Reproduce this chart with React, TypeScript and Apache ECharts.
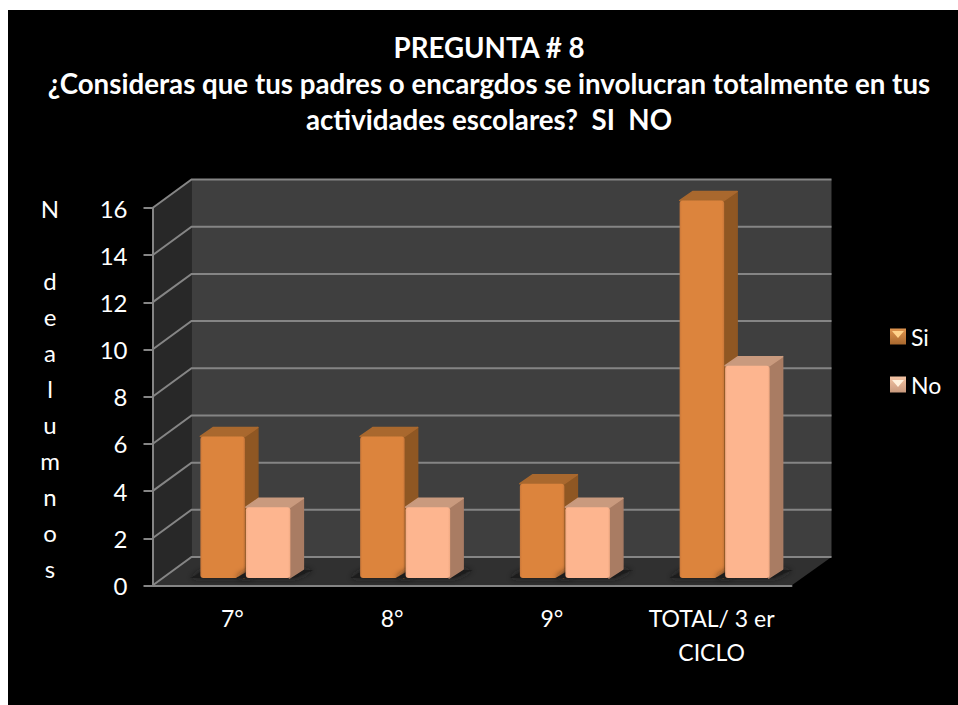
import React, { useEffect, useRef } from "react";
import * as echarts from "echarts";

const categories = ["7°", "8°", "9°", "TOTAL/ 3 er\nCICLO"];
const siValues = [6, 6, 4, 16];
const noValues = [3, 3, 3, 9];
const yTicks = [0, 2, 4, 6, 8, 10, 12, 14, 16];
const titleText =
  "PREGUNTA # 8\n¿Consideras que tus padres o encargdos se involucran totalmente en tus\nactividades escolares?  SI  NO";
const yTitle = "N\n\nd\ne\na\nl\nu\nm\nn\no\ns";

const FONT = "Lato";
const WALL_DX = 39;
const WALL_DY = 28.5;
const BAR_DX = 13;
const BAR_DY = 9;
const BASE_DX = 13;
const BASE_DY = 7.5;
const BAR_W = 44.5;

const siColors = { front: "#DC843D", edge: "#C8773A", top: "#A9682E", side: "#8F5723" };
const noColors = { front: "#FDB58F", edge: "#F0A982", top: "#C99A7E", side: "#A97C63" };

function hGrad(edge: string, main: string) {
  return new echarts.graphic.LinearGradient(0, 0, 1, 0, [
    { offset: 0, color: edge },
    { offset: 0.05, color: main },
    { offset: 0.95, color: main },
    { offset: 1, color: edge },
  ]);
}

function barRender(offset: number, c: typeof siColors) {
  return (_params: any, api: any) => {
    const [cx, yv] = api.coord([api.value(0), api.value(1)]);
    const [, y0] = api.coord([api.value(0), 0]);
    const x0 = cx + BASE_DX + offset;
    const top = yv - BASE_DY;
    const bot = y0 - BASE_DY;
    const x1 = x0 + BAR_W;
    return {
      type: "group",
      children: [
        {
          type: "polygon",
          shape: {
            points: [
              [x0 - 10, bot],
              [x0 + 4, bot - 8],
              [x1 + BAR_DX + 10, bot - 8],
              [x1 + 4, bot],
            ],
          },
          style: { fill: "#1c1c1c", shadowBlur: 6, shadowColor: "#1c1c1c" },
        },
        {
          type: "polygon",
          shape: {
            points: [
              [x1 - 1, top],
              [x1 + BAR_DX, top - BAR_DY],
              [x1 + BAR_DX, bot - BAR_DY],
              [x1 - 1, bot],
            ],
          },
          style: { fill: c.side, lineJoin: "round", stroke: c.side, lineWidth: 1.5 },
        },
        {
          type: "polygon",
          shape: {
            points: [
              [x0, top],
              [x0 + BAR_DX, top - BAR_DY],
              [x1 + BAR_DX, top - BAR_DY],
              [x1, top],
            ],
          },
          style: { fill: c.top, lineJoin: "round", stroke: c.top, lineWidth: 1.5 },
        },
        {
          type: "rect",
          shape: { x: x0, y: top, width: BAR_W, height: bot - top, r: 3 },
          style: { fill: hGrad(c.edge, c.front) },
        },
      ],
    };
  };
}

function wallRender(params: any, _api: any) {
  const { x, y, width: w, height: h } = params.coordSys;
  return {
    type: "group",
    children: [
      {
        type: "polygon",
        shape: { points: [[x, y], [x + WALL_DX, y - WALL_DY], [x + WALL_DX, y + h - WALL_DY], [x, y + h]] },
        style: { fill: "#282828" },
      },
      {
        type: "rect",
        shape: { x: x + WALL_DX, y: y - WALL_DY, width: w + 1, height: h },
        style: { fill: "#3F3F3F" },
      },
      {
        type: "polygon",
        shape: {
          points: [
            [x, y + h],
            [x + WALL_DX, y + h - WALL_DY],
            [x + w + WALL_DX + 1, y + h - WALL_DY],
            [x + w, y + h],
          ],
        },
        style: { fill: "#303030" },
      },
    ],
  };
}

function gridRender(params: any, api: any) {
  const { x, width: w } = params.coordSys;
  const [, y] = api.coord([0, api.value(1)]);
  return {
    type: "polyline",
    shape: { points: [[x, y], [x + WALL_DX, y - WALL_DY], [x + w + WALL_DX + 1, y - WALL_DY]] },
    style: { fill: "none", stroke: "#858585", lineWidth: 2 },
  };
}

export default function App() {
  const ref = useRef<HTMLDivElement>(null);
  useEffect(() => {
    const chart = echarts.init(ref.current!, null, { renderer: "svg" });
    chart.setOption({
      animation: false,
      backgroundColor: "transparent",
      title: [
        {
          text: titleText,
          left: 484,
          top: 24,
          textAlign: "center",
          textStyle: { color: "#fff", fontFamily: FONT, fontWeight: "bold", fontSize: 27.7, lineHeight: 36 },
        },
        {
          text: yTitle,
          left: 45,
          top: 185,
          textAlign: "center",
          textStyle: { color: "#fff", fontFamily: FONT, fontWeight: "normal", fontSize: 24, lineHeight: 36 },
        },
      ],
      legend: {
        left: 885,
        top: 320,
        orient: "vertical",
        itemWidth: 16,
        itemHeight: 16,
        itemGap: 25,
        icon: "rect",
        textStyle: { color: "#fff", fontFamily: FONT, fontSize: 23 },
        data: [
          {
            name: "Si",
            itemStyle: {
              color: new echarts.graphic.LinearGradient(0, 0, 0, 1, [
                { offset: 0, color: "#E0954F" },
                { offset: 1, color: "#A9682E" },
              ]),
            },
          },
          {
            name: "No",
            itemStyle: {
              color: new echarts.graphic.LinearGradient(0, 0, 0, 1, [
                { offset: 0, color: "#F4C4A4" },
                { offset: 1, color: "#C99A7E" },
              ]),
            },
          },
        ],
      },
      graphic: [
        {
          type: "polygon",
          z: 10,
          shape: { points: [[892, 331], [904, 331], [898, 338]] },
          style: { fill: "#FFD28A" },
        },
        {
          type: "polygon",
          z: 10,
          shape: { points: [[892, 380], [904, 380], [898, 387]] },
          style: { fill: "#FFF0DC" },
        },
      ],
      grid: { left: 152.5, right: 166.5, top: 208, bottom: 119.5 },
      xAxis: {
        type: "category",
        data: categories,
        z: 3,
        axisLine: { lineStyle: { color: "#858585", width: 2 } },
        axisTick: { length: 8, lineStyle: { color: "#858585", width: 2 } },
        axisLabel: { color: "#fff", fontFamily: FONT, fontSize: 23, lineHeight: 34, margin: 15, interval: 0 },
      },
      yAxis: {
        type: "value",
        min: 0,
        max: 16,
        interval: 2,
        z: 3,
        axisLine: { show: true, lineStyle: { color: "#858585", width: 2 } },
        axisTick: { show: true, length: 9, lineStyle: { color: "#858585", width: 2 } },
        axisLabel: { color: "#fff", fontFamily: FONT, fontSize: 24, margin: 25 },
        splitLine: { show: false },
      },
      series: [
        {
          type: "custom",
          name: "walls",
          z: 1,
          silent: true,
          renderItem: wallRender,
          data: [[0, 0]],
          encode: { x: 0, y: 1 },
        },
        {
          type: "custom",
          name: "grid",
          z: 2,
          silent: true,
          renderItem: gridRender,
          data: yTicks.map((v) => [0, v]),
          encode: { x: 0, y: 1 },
        },
        {
          type: "custom",
          name: "Si",
          z: 4,
          itemStyle: { color: siColors.front },
          renderItem: barRender(-BAR_W - 0.5, siColors),
          data: siValues.map((v, i) => [i, v]),
          encode: { x: 0, y: 1 },
        },
        {
          type: "custom",
          name: "No",
          z: 4,
          itemStyle: { color: noColors.front },
          renderItem: barRender(0.5, noColors),
          data: noValues.map((v, i) => [i, v]),
          encode: { x: 0, y: 1 },
        },
      ],
    });
    return () => chart.dispose();
  }, []);
  return (
    <div style={{ position: "absolute", left: 0, top: 0, width: 958, height: 705, background: "#fff", overflow: "hidden" }}>
      <div style={{ position: "absolute", left: 8, top: 10, width: 950, height: 695, background: "#000" }} />
      <div ref={ref} style={{ position: "absolute", left: 0, top: 0, width: 958, height: 705 }} />
    </div>
  );
}
